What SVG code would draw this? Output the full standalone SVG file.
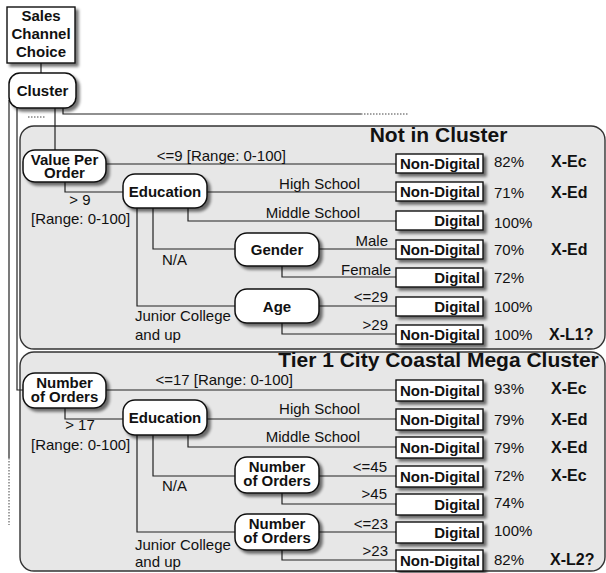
<svg xmlns="http://www.w3.org/2000/svg" width="606" height="573" viewBox="0 0 606 573">
  <defs>
    <filter id="shadow" x="-20%" y="-20%" width="150%" height="160%">
      <feGaussianBlur in="SourceAlpha" stdDeviation="1.4"/>
      <feOffset dx="2.5" dy="2.5" result="b"/>
      <feComponentTransfer><feFuncA type="linear" slope="0.55"/></feComponentTransfer>
      <feMerge><feMergeNode/><feMergeNode in="SourceGraphic"/></feMerge>
    </filter>
    <style>
      .panel { fill: #e7e7e7; stroke: #333; stroke-width: 1.4; }
      .node { fill: #fff; stroke: #111; stroke-width: 1.5; filter: url(#shadow); }
      .leaf { fill: #fff; stroke: #111; stroke-width: 1.4; filter: url(#shadow); }
      .wire { fill: none; stroke: #222; stroke-width: 1.2; }
      .dots { fill: none; stroke: #444; stroke-width: 1; stroke-dasharray: 1.5 1.5; }
      text { font-family: "Liberation Sans", Arial, sans-serif; fill: #111; }
      .nl { font-size: 15px; font-weight: bold; text-anchor: middle; }
      .lv { font-size: 15px; font-weight: bold; text-anchor: end; }
      .el { font-size: 15px; }
      .er { font-size: 15px; text-anchor: end; }
      .pc { font-size: 15px; }
      .xc { font-size: 16px; font-weight: bold; }
      .title { font-size: 21px; font-weight: bold; text-anchor: middle; }
    </style>
  </defs>

  <!-- cluster panels -->
  <g id="panel-not-in-cluster">
    <rect class="panel" x="20" y="126" width="585" height="223" rx="14"/>
    <text class="title" x="438.5" y="142">Not in Cluster</text>
  </g>
  <g id="panel-tier1">
    <rect class="panel" x="20" y="352" width="585" height="219" rx="14"/>
    <text class="title" x="438.5" y="367">Tier 1 City Coastal Mega Cluster</text>
  </g>

  <!-- connectors -->
  <g id="connectors">
    <path class="wire" d="M41,63 V74"/>
    <path class="wire" d="M9,100 V458"/>
    <path class="dots" d="M9,458 V525"/>
    <path class="wire" d="M63,100 V114 H361"/>
    <path class="dots" d="M361,114 H408"/>
    <path class="dots" d="M28,117 H46"/>

    <!-- Not in Cluster -->
    <path class="wire" d="M55,100 V164 H396"/>
    <path class="wire" d="M65,180 V192 H396"/>
    <path class="wire" d="M188,205 V221 H396"/>
    <path class="wire" d="M153,205 V249 H396"/>
    <path class="wire" d="M137,205 V306 H396"/>
    <path class="wire" d="M282,264 V277 H396"/>
    <path class="wire" d="M282,320 V334 H396"/>

    <!-- Tier 1 City Coastal Mega Cluster -->
    <path class="wire" d="M17,100 V390 H396"/>
    <path class="wire" d="M65,406 V419 H396"/>
    <path class="wire" d="M188,432 V447 H396"/>
    <path class="wire" d="M153,432 V476 H396"/>
    <path class="wire" d="M137,432 V532 H396"/>
    <path class="wire" d="M282,490 V504 H396"/>
    <path class="wire" d="M282,547 V560 H396"/>
  </g>

  <!-- branch labels -->
  <g id="branch-labels">
    <text class="er" x="286" y="161">&lt;=9 [Range: 0-100]</text>
    <text class="el" x="80" y="205" text-anchor="middle">&gt; 9</text>
    <text class="el" x="31" y="224">[Range: 0-100]</text>
    <text class="er" x="360" y="189">High School</text>
    <text class="er" x="360" y="218">Middle School</text>
    <text class="el" x="162" y="265">N/A</text>
    <text class="el" x="135" y="321">Junior College</text>
    <text class="el" x="135" y="340">and up</text>
    <text class="er" x="388" y="246">Male</text>
    <text class="er" x="391" y="275">Female</text>
    <text class="er" x="388" y="302">&lt;=29</text>
    <text class="er" x="388" y="330">&gt;29</text>

    <text class="er" x="293" y="385">&lt;=17 [Range: 0-100]</text>
    <text class="el" x="80" y="430" text-anchor="middle">&gt; 17</text>
    <text class="el" x="31" y="450">[Range: 0-100]</text>
    <text class="er" x="360" y="414">High School</text>
    <text class="er" x="360" y="442">Middle School</text>
    <text class="el" x="162" y="491">N/A</text>
    <text class="el" x="135" y="550">Junior College</text>
    <text class="el" x="135" y="567">and up</text>
    <text class="er" x="387" y="472">&lt;=45</text>
    <text class="er" x="387" y="499">&gt;45</text>
    <text class="er" x="388" y="529">&lt;=23</text>
    <text class="er" x="388" y="556">&gt;23</text>
  </g>

  <!-- decision nodes -->
  <g id="root">
    <rect class="leaf" x="7" y="7" width="68" height="56"/>
    <text class="nl" x="41" y="21">Sales</text>
    <text class="nl" x="41" y="39">Channel</text>
    <text class="nl" x="41" y="57">Choice</text>
  </g>
  <g id="cluster">
    <rect class="node" x="9" y="73" width="67" height="35" rx="11"/>
    <text class="nl" x="42.5" y="96">Cluster</text>
  </g>

  <g id="value-per-order">
    <rect class="node" x="23" y="150" width="83" height="32" rx="12"/>
    <text class="nl" x="64.5" y="165">Value Per</text>
    <text class="nl" x="64.5" y="178">Order</text>
  </g>
  <g id="education-1">
    <rect class="node" x="123" y="174" width="84" height="34" rx="12"/>
    <text class="nl" x="165" y="197">Education</text>
  </g>
  <g id="gender">
    <rect class="node" x="235" y="233" width="84" height="33" rx="12"/>
    <text class="nl" x="277" y="255">Gender</text>
  </g>
  <g id="age">
    <rect class="node" x="235" y="289" width="84" height="34" rx="12"/>
    <text class="nl" x="277" y="312">Age</text>
  </g>

  <g id="orders-1">
    <rect class="node" x="23" y="373" width="83" height="35" rx="12"/>
    <text class="nl" x="64.5" y="388">Number</text>
    <text class="nl" x="64.5" y="402">of Orders</text>
  </g>
  <g id="education-2">
    <rect class="node" x="123" y="400" width="84" height="35" rx="12"/>
    <text class="nl" x="165" y="423">Education</text>
  </g>
  <g id="orders-2">
    <rect class="node" x="235" y="457" width="84" height="36" rx="12"/>
    <text class="nl" x="277" y="472">Number</text>
    <text class="nl" x="277" y="486">of Orders</text>
  </g>
  <g id="orders-3">
    <rect class="node" x="235" y="514" width="84" height="36" rx="12"/>
    <text class="nl" x="277" y="529">Number</text>
    <text class="nl" x="277" y="543">of Orders</text>
  </g>

  <!-- outcome leaves -->
  <g id="leaf-1-1"><rect class="leaf" x="396" y="154" width="87" height="19"/><text class="lv" x="480" y="169">Non-Digital</text><text class="pc" x="494" y="167">82%</text><text class="xc" x="551" y="167">X-Ec</text></g>
  <g id="leaf-1-2"><rect class="leaf" x="396" y="182" width="87" height="19"/><text class="lv" x="480" y="197">Non-Digital</text><text class="pc" x="494" y="198">71%</text><text class="xc" x="551" y="198">X-Ed</text></g>
  <g id="leaf-1-3"><rect class="leaf" x="396" y="211" width="87" height="19"/><text class="lv" x="480" y="226">Digital</text><text class="pc" x="494" y="228">100%</text></g>
  <g id="leaf-1-4"><rect class="leaf" x="396" y="240" width="87" height="19"/><text class="lv" x="480" y="255">Non-Digital</text><text class="pc" x="494" y="255">70%</text><text class="xc" x="551" y="255">X-Ed</text></g>
  <g id="leaf-1-5"><rect class="leaf" x="396" y="268" width="87" height="19"/><text class="lv" x="480" y="283">Digital</text><text class="pc" x="494" y="283">72%</text></g>
  <g id="leaf-1-6"><rect class="leaf" x="396" y="297" width="87" height="19"/><text class="lv" x="480" y="312">Digital</text><text class="pc" x="494" y="312">100%</text></g>
  <g id="leaf-1-7"><rect class="leaf" x="396" y="325" width="87" height="19"/><text class="lv" x="480" y="340">Non-Digital</text><text class="pc" x="494" y="340">100%</text><text class="xc" x="549" y="340">X-L1?</text></g>

  <g id="leaf-2-1"><rect class="leaf" x="396" y="380" width="87" height="21"/><text class="lv" x="480" y="396">Non-Digital</text><text class="pc" x="494" y="394">93%</text><text class="xc" x="551" y="394">X-Ec</text></g>
  <g id="leaf-2-2"><rect class="leaf" x="396" y="409" width="87" height="21"/><text class="lv" x="480" y="425">Non-Digital</text><text class="pc" x="494" y="425">79%</text><text class="xc" x="551" y="425">X-Ed</text></g>
  <g id="leaf-2-3"><rect class="leaf" x="396" y="437" width="87" height="21"/><text class="lv" x="480" y="453">Non-Digital</text><text class="pc" x="494" y="453">79%</text><text class="xc" x="551" y="453">X-Ed</text></g>
  <g id="leaf-2-4"><rect class="leaf" x="396" y="466" width="87" height="21"/><text class="lv" x="480" y="482">Non-Digital</text><text class="pc" x="494" y="481">72%</text><text class="xc" x="551" y="481">X-Ec</text></g>
  <g id="leaf-2-5"><rect class="leaf" x="396" y="494" width="87" height="21"/><text class="lv" x="480" y="510">Digital</text><text class="pc" x="494" y="508">74%</text></g>
  <g id="leaf-2-6"><rect class="leaf" x="396" y="522" width="87" height="21"/><text class="lv" x="480" y="538">Digital</text><text class="pc" x="494" y="536">100%</text></g>
  <g id="leaf-2-7"><rect class="leaf" x="396" y="550" width="87" height="21"/><text class="lv" x="480" y="566">Non-Digital</text><text class="pc" x="494" y="565">82%</text><text class="xc" x="550" y="565">X-L2?</text></g>
</svg>
